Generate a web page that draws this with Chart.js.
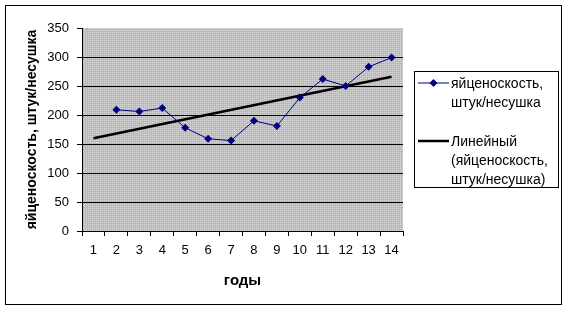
<!DOCTYPE html>
<html>
<head>
<meta charset="utf-8">
<script src="https://cdn.jsdelivr.net/npm/chart.js@4/dist/chart.umd.min.js"></script>
<style>
    body { margin: 0; background: #fff; font-family: "Liberation Sans", Arial, sans-serif; }
    #wrap { position: relative; width: 567px; height: 311px; }
    #frame { position: absolute; left: 5px; top: 5px; width: 555px; height: 298px; border: 1px solid #000; pointer-events: none; }
    #legend { position: absolute; left: 414px; top: 71px; width: 143px; height: 115px; border: 1px solid #000; background: #fff; font-size: 14px; color: #000; }
    .item { position: absolute; left: 3px; display: flex; align-items: flex-start; }
    .item svg { flex: none; margin-top: 3px; }
    .item span { line-height: 19px; margin-left: 2px; }
</style>
</head>
<body>
<div id="wrap">
    <canvas id="chart" width="567" height="311"></canvas>
    <div id="frame"></div>
    <div id="legend">
        <div class="item" style="top:2px">
            <svg width="31" height="12"><line x1="0" y1="6" x2="31" y2="6" stroke="#000080" stroke-width="1"/><polygon points="15.5,2 19.5,6 15.5,10 11.5,6" fill="#000080"/></svg>
            <span>яйценоскость,<br>штук/несушка</span>
        </div>
        <div class="item" style="top:60px">
            <svg width="31" height="12"><line x1="0" y1="6" x2="31" y2="6" stroke="#000" stroke-width="2.5"/></svg>
            <span>Линейный<br>(яйценоскость,<br>штук/несушка)</span>
        </div>
    </div>
</div>
<script>
// categories (years) and values
const years = ['1', '2', '3', '4', '5', '6', '7', '8', '9', '10', '11', '12', '13', '14'];
const eggYield = [null, 209, 206, 212, 178, 159, 156, 190, 181, 230, 262, 250, 283, 299];
// linear trend: only the two ends are read, the line spans between them
const trendLine = [160, null, null, null, null, null, null, null, null, null, null, null, null, 266];
const yTicks = [0, 50, 100, 150, 200, 250, 300, 350];

// grey dotted fill of the plot area
function makePattern() {
    const c = document.createElement('canvas');
    c.width = 2; c.height = 2;
    const g = c.getContext('2d');
    g.fillStyle = '#bababa';
    g.fillRect(0, 0, 2, 2);
    g.fillStyle = '#dadada';
    g.fillRect(0, 0, 1, 1);
    return g.createPattern(c, 'repeat');
}

const plotBg = {
    id: 'plotBg',
    beforeDraw(chart) {
        const { ctx, chartArea: a } = chart;
        ctx.save();
        ctx.fillStyle = makePattern();
        ctx.fillRect(a.left, a.top, a.right - a.left, a.bottom - a.top);
        ctx.restore();
    }
};

const font = { family: '"Liberation Sans", Arial, sans-serif', size: 13 };

new Chart(document.getElementById('chart'), {
    type: 'line',
    data: {
        labels: years,
        datasets: [{
            label: 'яйценоскость, штук/несушка',
            data: eggYield,
            borderColor: '#000080',
            backgroundColor: '#000080',
            borderWidth: 1,
            pointStyle: 'rectRot',
            pointRadius: 4,
            pointBorderWidth: 0,
            tension: 0,
            order: 1
        }, {
            label: 'Линейный (яйценоскость, штук/несушка)',
            data: trendLine,
            borderColor: '#000',
            borderWidth: 2.5,
            pointRadius: 0,
            spanGaps: true,
            tension: 0,
            order: 2
        }]
    },
    options: {
        responsive: false,
        animation: false,
        layout: { padding: { left: 15, right: 164, top: 28, bottom: 15 } },
        plugins: { legend: { display: false }, tooltip: { enabled: false } },
        scales: {
            x: {
                offset: true,
                afterFit: s => { s.height = 65; },
                grid: { offset: true, drawOnChartArea: false, tickLength: 5, tickColor: '#000' },
                border: { color: '#000', width: 1 },
                ticks: { color: '#000', font: font, padding: 7, maxRotation: 0 },
                title: { display: true, text: 'годы', color: '#000', font: { ...font, size: 15, weight: 'bold' }, padding: { bottom: 6 } }
            },
            y: {
                min: 0,
                max: 350,
                afterFit: s => { s.width = 67; },
                afterBuildTicks: s => { s.ticks = yTicks.map(v => ({ value: v })); },
                grid: {
                    color: c => c.tick && c.tick.value === 350 ? 'rgba(0,0,0,0)' : '#000',
                    tickColor: '#000',
                    tickLength: 5,
                    lineWidth: 1
                },
                border: { color: '#000', width: 1 },
                ticks: { color: '#000', font: font, padding: 8 },
                title: { display: true, text: 'яйценоскость, штук/несушка', color: '#000', font: { ...font, size: 14, weight: 'bold' }, padding: { top: 9 } }
            }
        }
    },
    plugins: [plotBg]
});
</script>
</body>
</html>
